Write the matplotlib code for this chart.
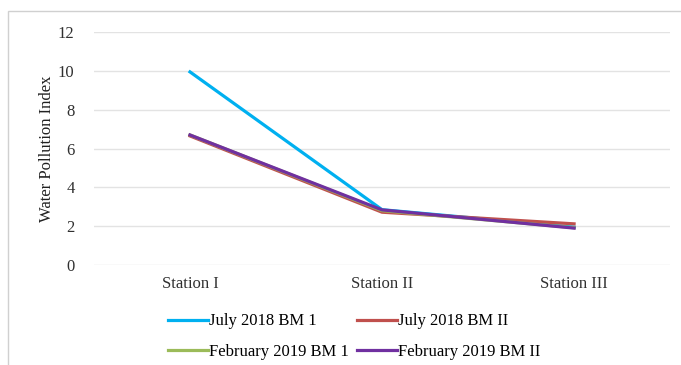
import matplotlib.pyplot as plt
from matplotlib.patches import Rectangle

plt.rcParams['font.family'] = 'Liberation Serif'

stations = ["Station I", "Station II", "Station III"]
july_bm1 = [9.95, 2.85, 1.95]
july_bm2 = [6.65, 2.72, 2.12]
feb_bm1 = [6.70, 2.80, 1.92]
feb_bm2 = [6.70, 2.84, 1.90]

fig = plt.figure(figsize=(6.81, 3.65), dpi=100)
# thin frame round the chart area
fig.patches.append(Rectangle((0.012, -0.05), 1.1, 1.02, transform=fig.transFigure,
                             fill=False, edgecolor="#d0d0d0", linewidth=1.0))
ax = fig.add_axes([0.138, 0.274, 0.846, 0.638])

x = range(len(stations))
l1, = ax.plot(x, july_bm1, color="#00B0F0", lw=2.3, label="July 2018 BM 1")
l2, = ax.plot(x, july_bm2, color="#C0504D", lw=2.3, label="July 2018 BM II")
l3, = ax.plot(x, feb_bm1, color="#9BBB59", lw=2.3, label="February 2019 BM 1")
l4, = ax.plot(x, feb_bm2, color="#7030A0", lw=2.3, label="February 2019 BM II")

ax.set_xlim(-0.5, 2.5)
ax.set_ylim(0, 12)
ax.set_yticks(range(0, 13, 2))
ax.set_xticks(list(x))
ax.set_xticklabels(stations)
ax.grid(axis="y", color="#e3e3e3", linewidth=1)
ax.set_axisbelow(True)
for s in ax.spines.values():
    s.set_visible(False)
ax.tick_params(length=0, labelsize=12, colors="#303030")
ax.tick_params(axis="y", pad=14)
ax.tick_params(axis="x", pad=8)
ax.set_ylabel("Water Pollution Index", fontsize=12, color="#202020", labelpad=2)

# rows: July on top, February below
handles = [l1, l3, l2, l4]
fig.legend(handles, [h.get_label() for h in handles], loc="center",
           bbox_to_anchor=(0.52, 0.078), ncol=2, frameon=False,
           fontsize=12, handlelength=2.4, handletextpad=0.1, columnspacing=0.45,
           labelspacing=0.85)

fig.savefig("out.png", dpi=100)
